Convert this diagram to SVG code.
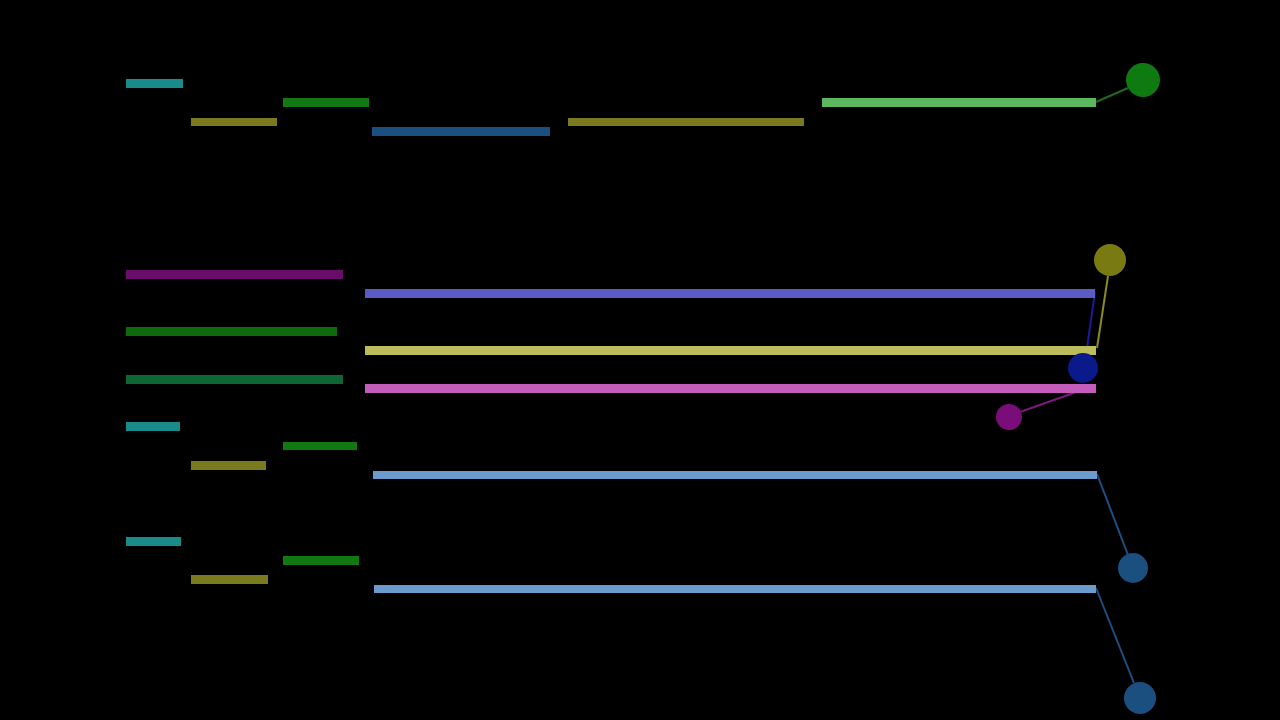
<svg xmlns="http://www.w3.org/2000/svg" width="1280" height="720" viewBox="0 0 1280 720">
<style>
.link{fill:none;stroke-width:2}
</style>
<rect x="0" y="0" width="1280" height="720" fill="#000"/>
<g id="connectors">
<line class="link" x1="1096" y1="102" x2="1128" y2="88" stroke="#1f6a1f"/>
<line class="link" x1="1097" y1="348" x2="1108" y2="276" stroke="#8a8a20"/>
<line class="link" x1="1095" y1="292" x2="1086" y2="355" stroke="#1a1a9a"/>
<line class="link" x1="1096" y1="385" x2="1020" y2="412" stroke="#7a1a7a"/>
<line class="link" x1="1097" y1="474" x2="1128" y2="555" stroke="#1f4f80"/>
<line class="link" x1="1096" y1="588" x2="1134" y2="683" stroke="#1f4f80"/>
</g>
<g id="top">
<rect x="126" y="79" width="57" height="9" fill="#198b8b"/>
<rect x="191" y="118" width="86" height="8" fill="#7a7a1e"/>
<rect x="283" y="98" width="86" height="9" fill="#127812"/>
<rect x="372" y="127" width="178" height="9" fill="#1b4f80"/>
<rect x="568" y="118" width="236" height="8" fill="#7a7a1e"/>
<rect x="822" y="98" width="274" height="9" fill="#5cb85c"/>
<circle cx="1143" cy="80" r="17" fill="#0f7a0f"/>
</g>
<g id="middle">
<rect x="126" y="270" width="217" height="9" fill="#6a0d6a"/>
<rect x="365" y="289" width="730" height="9" fill="#5b5bc4"/>
<rect x="126" y="327" width="211" height="9" fill="#0d6b0d"/>
<rect x="365" y="346" width="731" height="9" fill="#bcbc5c"/>
<rect x="126" y="375" width="217" height="9" fill="#0d6633"/>
<rect x="365" y="384" width="731" height="9" fill="#c45cbc"/>
<circle cx="1110" cy="260" r="16" fill="#7a7a12"/>
<circle cx="1083" cy="368" r="15" fill="#0a1a8a"/>
<circle cx="1009" cy="417" r="13" fill="#7a0d7a"/>
</g>
<g id="lower1">
<rect x="126" y="422" width="54" height="9" fill="#198b8b"/>
<rect x="283" y="442" width="74" height="8" fill="#127812"/>
<rect x="191" y="461" width="75" height="9" fill="#7a7a1e"/>
<rect x="373" y="471" width="724" height="8" fill="#6b9bcc"/>
<circle cx="1133" cy="568" r="15" fill="#1b4f80"/>
</g>
<g id="lower2">
<rect x="126" y="537" width="55" height="9" fill="#198b8b"/>
<rect x="283" y="556" width="76" height="9" fill="#127812"/>
<rect x="191" y="575" width="77" height="9" fill="#7a7a1e"/>
<rect x="374" y="585" width="722" height="8" fill="#6b9bcc"/>
<circle cx="1140" cy="698" r="16" fill="#1b4f80"/>
</g>
</svg>
